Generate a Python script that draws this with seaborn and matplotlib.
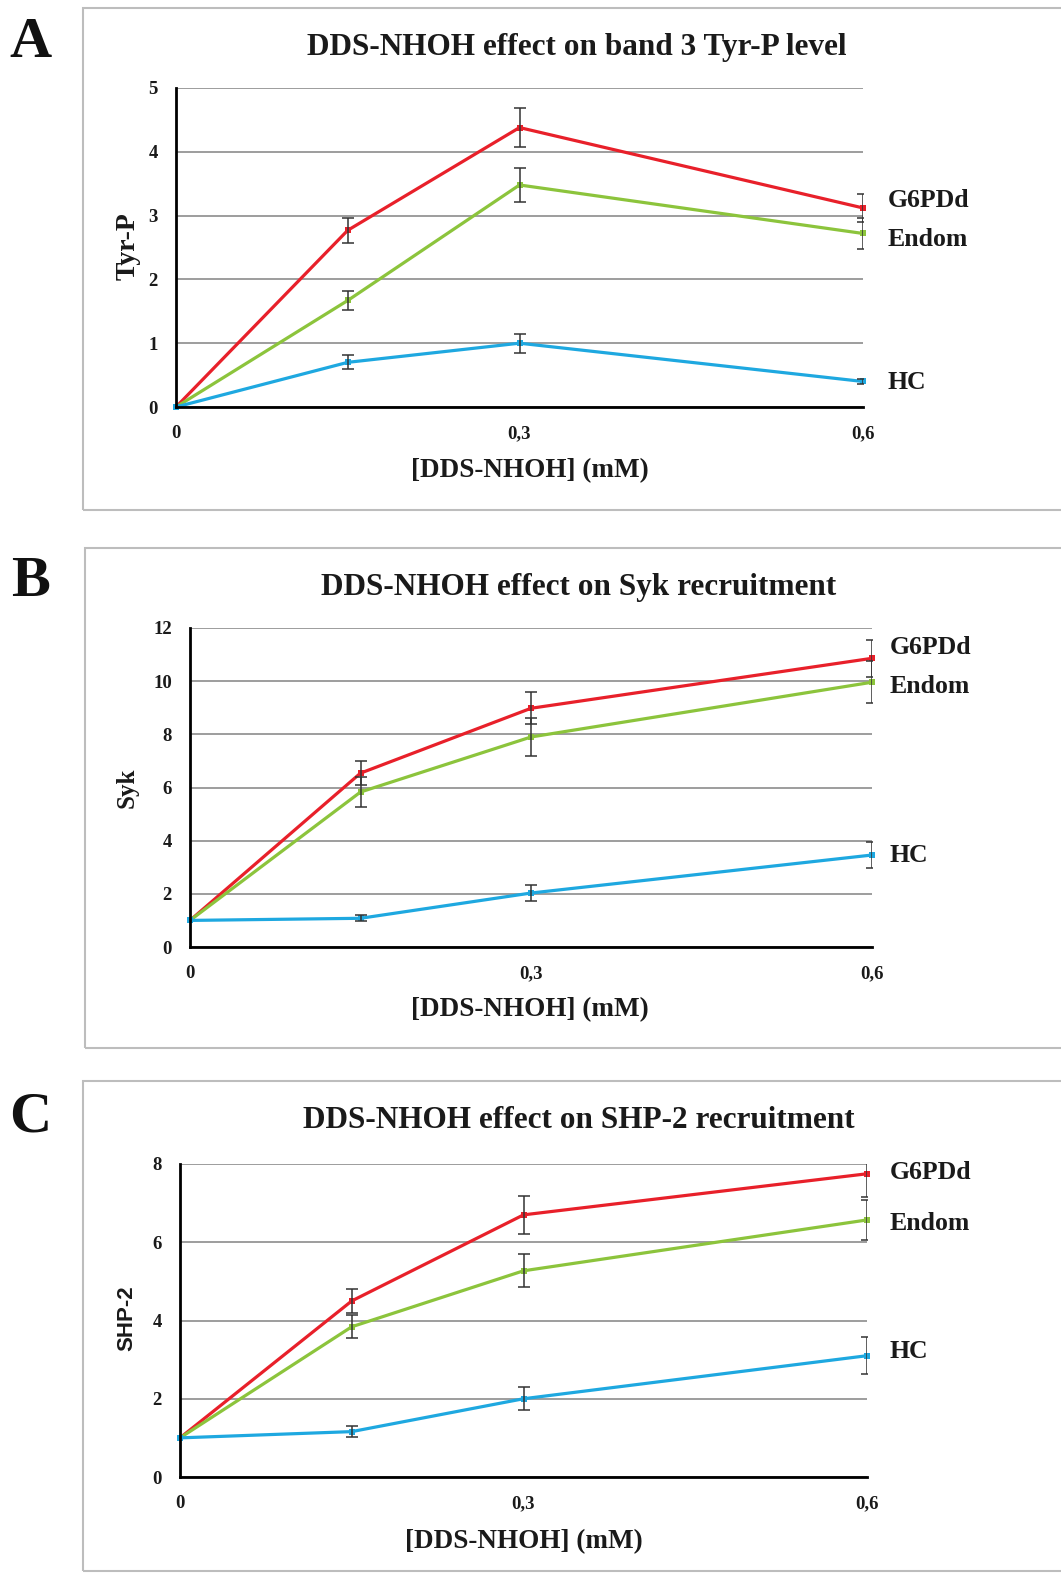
import matplotlib
matplotlib.use("Agg")
import matplotlib.pyplot as plt
import seaborn as sns
import pandas as pd
import numpy as np
from matplotlib.patches import Rectangle
from matplotlib.ticker import FuncFormatter

# ---------------- data ----------------
conc = [0, 0.15, 0.3, 0.6]
series = ["G6PDd", "Endom", "HC"]

tyrp_g6pd = [0, 2.77, 4.38, 3.12]
tyrp_g6pd_err = [0, 0.2, 0.31, 0.22]
tyrp_endom = [0, 1.67, 3.48, 2.72]
tyrp_endom_err = [0, 0.15, 0.27, 0.25]
tyrp_hc = [0, 0.70, 1.0, 0.40]
tyrp_hc_err = [0, 0.11, 0.15, 0.04]

syk_g6pd = [1.0, 6.54, 8.98, 10.86]
syk_g6pd_err = [0, 0.45, 0.6, 0.7]
syk_endom = [1.0, 5.83, 7.9, 9.96]
syk_endom_err = [0, 0.55, 0.7, 0.8]
syk_hc = [1.0, 1.08, 2.03, 3.46]
syk_hc_err = [0, 0.12, 0.3, 0.5]

shp_g6pd = [1.0, 4.5, 6.7, 7.75]
shp_g6pd_err = [0, 0.3, 0.48, 0.6]
shp_endom = [1.0, 3.84, 5.27, 6.57]
shp_endom_err = [0, 0.3, 0.42, 0.5]
shp_hc = [1.0, 1.16, 2.0, 3.1]
shp_hc_err = [0, 0.15, 0.3, 0.48]

titles = ["DDS-NHOH effect on band 3 Tyr-P level",
          "DDS-NHOH effect on Syk recruitment",
          "DDS-NHOH effect on SHP-2 recruitment"]
ylabels = ["Tyr-P", "Syk", "SHP-2"]
letters = ["A", "B", "C"]
xlabel = "[DDS-NHOH] (mM)"
xticks = [0, 0.3, 0.6]
yticks_list = [[0, 1, 2, 3, 4, 5], [0, 2, 4, 6, 8, 10, 12], [0, 2, 4, 6, 8]]
# label y positions (data units) for series names at right end
label_y = [[3.24, 2.63, 0.39], [11.28, 9.81, 3.46], [7.77, 6.47, 3.2]]

colors = {"G6PDd": "#e8202a", "Endom": "#8cc43c", "HC": "#1ea8e0"}

panel_data = [
    [(tyrp_g6pd, tyrp_g6pd_err), (tyrp_endom, tyrp_endom_err), (tyrp_hc, tyrp_hc_err)],
    [(syk_g6pd, syk_g6pd_err), (syk_endom, syk_endom_err), (syk_hc, syk_hc_err)],
    [(shp_g6pd, shp_g6pd_err), (shp_endom, shp_endom_err), (shp_hc, shp_hc_err)],
]

# ---------------- layout ----------------
W, H = 1061, 1573
sns.set_theme(style="white")
plt.rcParams['font.family'] = ['Liberation Serif', 'DejaVu Serif']
plt.rcParams['font.weight'] = 'bold'

fig = plt.figure(figsize=(W / 100, H / 100), dpi=100)
fig.patch.set_facecolor("white")

def fx(px):
    return px / W

def fy(py):
    return 1 - py / H

# axes pixel boxes: left, right, top(ymax), bottom(y0)
axes_px = [(176, 863, 88, 407), (190, 872, 628, 947), (180, 867, 1164, 1477)]
boxes_px = [(83, 8, 510), (85, 548, 1048), (83, 1081, 1571)]
title_pos = [(577, 48), (579, 587), (579, 1121)]
letter_pos = [(30, 43), (30, 582), (30, 1117)]
xlabel_pos = [(530, 471), (530, 1010), (524, 1542)]
ylabel_pos = [(128, 246), (127, 788), (127, 1318)]
ylabel_size = [20, 18, 16]
ylabel_family = [['Liberation Serif'], ['Liberation Serif'], ['Liberation Sans']]
name_offset_px = [25, 18, 23]

for i in range(3):
    bx, btop, bbot = boxes_px[i]
    fig.patches.append(Rectangle((fx(bx), fy(bbot)), fx(W + 20 - bx), (bbot - btop) / H,
                                 transform=fig.transFigure, fill=False,
                                 edgecolor="#bdbdbd", linewidth=1.5, zorder=0))

    l, r, t, b = axes_px[i]
    ax = fig.add_axes([fx(l), fy(b), fx(r - l), (b - t) / H])
    ax.set_facecolor("none")

    rows = []
    for name, (vals, errs) in zip(series, panel_data[i]):
        for x, v, e in zip(conc, vals, errs):
            rows.append({"conc": x, "value": v, "err": e, "group": name})
    df = pd.DataFrame(rows)

    sns.lineplot(data=df, x="conc", y="value", hue="group", palette=colors,
                 marker="s", markersize=5, markeredgewidth=0, linewidth=2.3,
                 ax=ax, legend=False, clip_on=False, zorder=3, errorbar=None)
    for name in series:
        sub = df[df.group == name]
        m = sub.err > 0
        ax.errorbar(sub.conc[m], sub.value[m], yerr=sub.err[m], fmt="none",
                    ecolor="#333333", elinewidth=1.1, capsize=4, capthick=1.1, zorder=4)

    ax.set_xlim(0, 0.6)
    ax.set_ylim(0, yticks_list[i][-1])
    ax.set_yticks(yticks_list[i])
    ax.set_xticks(xticks)
    ax.xaxis.set_major_formatter(FuncFormatter(lambda v, p: "0" if v == 0 else f"{v:.1f}".replace(".", ",")))
    ax.yaxis.grid(True, color="#8c8c8c", linewidth=1.2)
    ax.xaxis.grid(False)
    ax.set_axisbelow(True)
    for s in ["top", "right"]:
        ax.spines[s].set_visible(False)
    for s in ["left", "bottom"]:
        ax.spines[s].set_color("black")
        ax.spines[s].set_linewidth(2.0)
        ax.spines[s].set_zorder(5)
    ax.tick_params(axis="both", length=0, labelsize=13.5, colors="#1a1a1a")
    ax.tick_params(axis="y", pad=13)
    ax.tick_params(axis="x", pad=13)
    for lab in ax.get_xticklabels() + ax.get_yticklabels():
        lab.set_fontweight("bold")
    ax.set_xlabel("")
    ax.set_ylabel("")

    for name, ly in zip(series, label_y[i]):
        ax.annotate(name, xy=(0.6, ly), xytext=(name_offset_px[i] / 1.389, 0),
                    textcoords="offset points",
                    ha="left", va="center", fontsize=18.5, fontweight="bold",
                    color="#1a1a1a", annotation_clip=False)

    fig.text(fx(title_pos[i][0]), fy(title_pos[i][1]), titles[i], ha="center", va="center",
             fontsize=22.5, fontweight="bold", color="#1a1a1a")
    fig.text(fx(letter_pos[i][0]), fy(letter_pos[i][1]), letters[i], ha="center", va="center",
             fontsize=42, fontweight="bold", color="#111111")
    fig.text(fx(xlabel_pos[i][0]), fy(xlabel_pos[i][1]), xlabel, ha="center", va="center",
             fontsize=19.5, fontweight="bold", color="#1a1a1a")
    fig.text(fx(ylabel_pos[i][0]), fy(ylabel_pos[i][1]), ylabels[i], ha="center", va="center",
             rotation=90, fontsize=ylabel_size[i], fontweight="bold", color="#1a1a1a",
             family=ylabel_family[i])

fig.savefig("out.png", dpi=100, facecolor="white")
